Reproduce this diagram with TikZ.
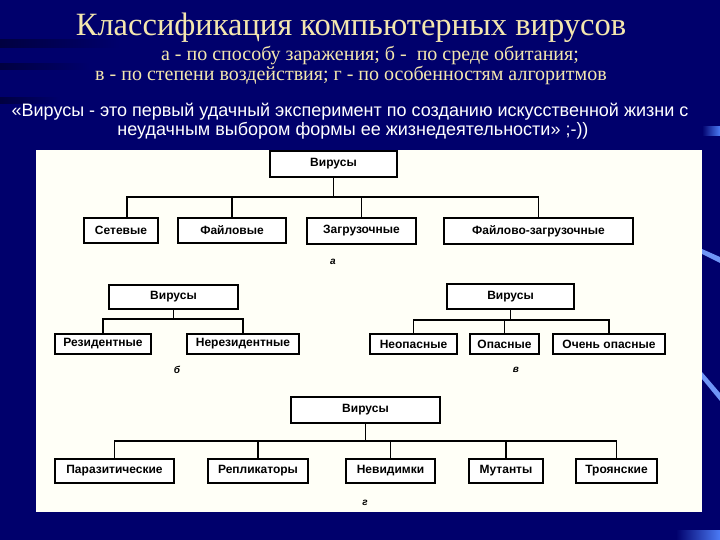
\documentclass[tikz,border=0pt]{standalone}
\usepackage{fontspec}
\setmainfont{Liberation Serif}
\setsansfont{Liberation Sans}
\usetikzlibrary{positioning}
\definecolor{vBack}{HTML}{00006C}
\definecolor{vDark}{HTML}{000040}
\definecolor{vTitle}{HTML}{F4E7AE}
\definecolor{vPanel}{HTML}{FFFFF7}
\definecolor{vStreak}{HTML}{4B7BF5}

\begin{document}
\begin{tikzpicture}[x=1pt, y=-1pt, line cap=rect, font=\sffamily,
  vbox/.style={draw=black, line width=1.8pt, fill=white, inner sep=0,
               font=\sffamily\bfseries\fontsize{12}{13}\selectfont},
  vlink/.style={black, line width=1.8pt},
  vtag/.style={inner sep=0, font=\sffamily\bfseries\itshape\fontsize{10}{11}\selectfont}]

% --- background ---
\fill[vBack] (0,0) rectangle (720,540);
\useasboundingbox (0,0) rectangle (720,540);
\shade[left color=vDark, right color=vBack] (0,40) rectangle (120,48);
\shade[left color=vDark, right color=vBack] (0,64) rectangle (90,70);
\shade[left color=vDark, right color=vBack] (0,98) rectangle (60,104);
\shade[left color=vBack, right color=vStreak] (702,127) rectangle (720,136);
\fill[vStreak!80] (702,249) -- (720,257) -- (720,263) -- (702,254) -- cycle;
\fill[vStreak!80] (702,372) -- (720,393) -- (720,401) -- (702,379) -- cycle;
\shade[left color=vBack, right color=vStreak] (676,530) rectangle (720,540);

% --- headings ---
\node[text=vTitle, inner sep=0, font=\rmfamily\fontsize{32.5}{35}\selectfont]
  (title) at (351,28) {Классификация компьютерных вирусов};
\node[text=vTitle, inner sep=0, font=\rmfamily\fontsize{20}{22}\selectfont]
  (subA) at (370,56) {а - по способу заражения; б -\ \ по среде обитания;};
\node[text=vTitle, inner sep=0, font=\rmfamily\fontsize{20}{22}\selectfont]
  (subB) at (351,75) {в - по степени воздействия; г - по особенностям алгоритмов};
\node[text=white, inner sep=0, font=\sffamily\fontsize{18}{20}\selectfont]
  (quoteA) at (350,112) {«Вирусы - это первый удачный эксперимент по созданию искусственной жизни с};
\node[text=white, inner sep=0, font=\sffamily\fontsize{18}{20}\selectfont]
  (quoteB) at (353,131) {неудачным выбором формы ее жизнедеятельности» ;-))};

% --- white sheet ---
\fill[vPanel] (36,150) rectangle (702,512);

% --- a: by way of infection ---
\node[vbox, minimum width=127, minimum height=26] (aRoot) at (333.5,164) {Вирусы};
\node[vbox, minimum width=74, minimum height=25] (aNet) at (121,230.5) {Сетевые};
\node[vbox, minimum width=108, minimum height=25] (aFile) at (232,230.5) {Файловые};
\node[vbox, minimum width=109, minimum height=26] (aBoot) at (361.5,231) {Загрузочные};
\node[vbox, minimum width=189, minimum height=26] (aMix) at (538.5,231) {Файлово-загрузочные};
\coordinate (aBar) at (0,197);
\draw[vlink] (aRoot.south) -- (aRoot.south |- aBar);
\draw[vlink] ([xshift=6]aNet.north |- aBar) -- (aMix.north |- aBar);
\draw[vlink] ([xshift=6]aNet.north) -- ([xshift=6]aNet.north |- aBar);
\foreach \c in {aFile, aBoot, aMix}
  \draw[vlink] (\c.north) -- (\c.north |- aBar);
\node[vtag] (aTag) at (333,262) {а};

% --- b: by habitat ---
\node[vbox, minimum width=129, minimum height=24] (bRoot) at (173.5,297) {Вирусы};
\node[vbox, minimum width=96, minimum height=20] (bRes) at (103,344) {Резидентные};
\node[vbox, minimum width=112, minimum height=20] (bNon) at (243,344) {Нерезидентные};
\coordinate (bBar) at (0,319);
\draw[vlink] (bRoot.south) -- (bRoot.south |- bBar);
\draw[vlink] (bRes.north |- bBar) -- (bNon.north |- bBar);
\foreach \c in {bRes, bNon}
  \draw[vlink] (\c.north) -- (\c.north |- bBar);
\node[vtag] (bTag) at (177,370) {б};

% --- v: by degree of impact ---
\node[vbox, minimum width=127, minimum height=25] (cRoot) at (510.5,296.5) {Вирусы};
\node[vbox, minimum width=87, minimum height=20] (cSafe) at (413.5,344) {Неопасные};
\node[vbox, minimum width=69, minimum height=20] (cRisk) at (504.5,344) {Опасные};
\node[vbox, minimum width=112, minimum height=20] (cVery) at (609,344) {Очень опасные};
\coordinate (cBar) at (0,320);
\draw[vlink] (cRoot.south) -- (cRoot.south |- cBar);
\draw[vlink] (cSafe.north |- cBar) -- (cVery.north |- cBar);
\foreach \c in {cSafe, cRisk, cVery}
  \draw[vlink] (\c.north) -- (\c.north |- cBar);
\node[vtag] (cTag) at (516,370) {в};

% --- g: by algorithm features ---
\node[vbox, minimum width=149, minimum height=26] (dRoot) at (365.5,410) {Вирусы};
\node[vbox, minimum width=119, minimum height=24] (dPar) at (114.5,471) {Паразитические};
\node[vbox, minimum width=100, minimum height=24] (dRep) at (258,471) {Репликаторы};
\node[vbox, minimum width=89, minimum height=24] (dInv) at (390.5,471) {Невидимки};
\node[vbox, minimum width=74, minimum height=24] (dMut) at (506,471) {Мутанты};
\node[vbox, minimum width=81, minimum height=24] (dTro) at (616.5,471) {Троянские};
\coordinate (dBar) at (0,441);
\draw[vlink] (dRoot.south) -- (dRoot.south |- dBar);
\draw[vlink] (dPar.north |- dBar) -- (dTro.north |- dBar);
\foreach \c in {dPar, dRep, dInv, dMut, dTro}
  \draw[vlink] (\c.north) -- (\c.north |- dBar);
\node[vtag] (dTag) at (365,503) {г};

\end{tikzpicture}
\end{document}
